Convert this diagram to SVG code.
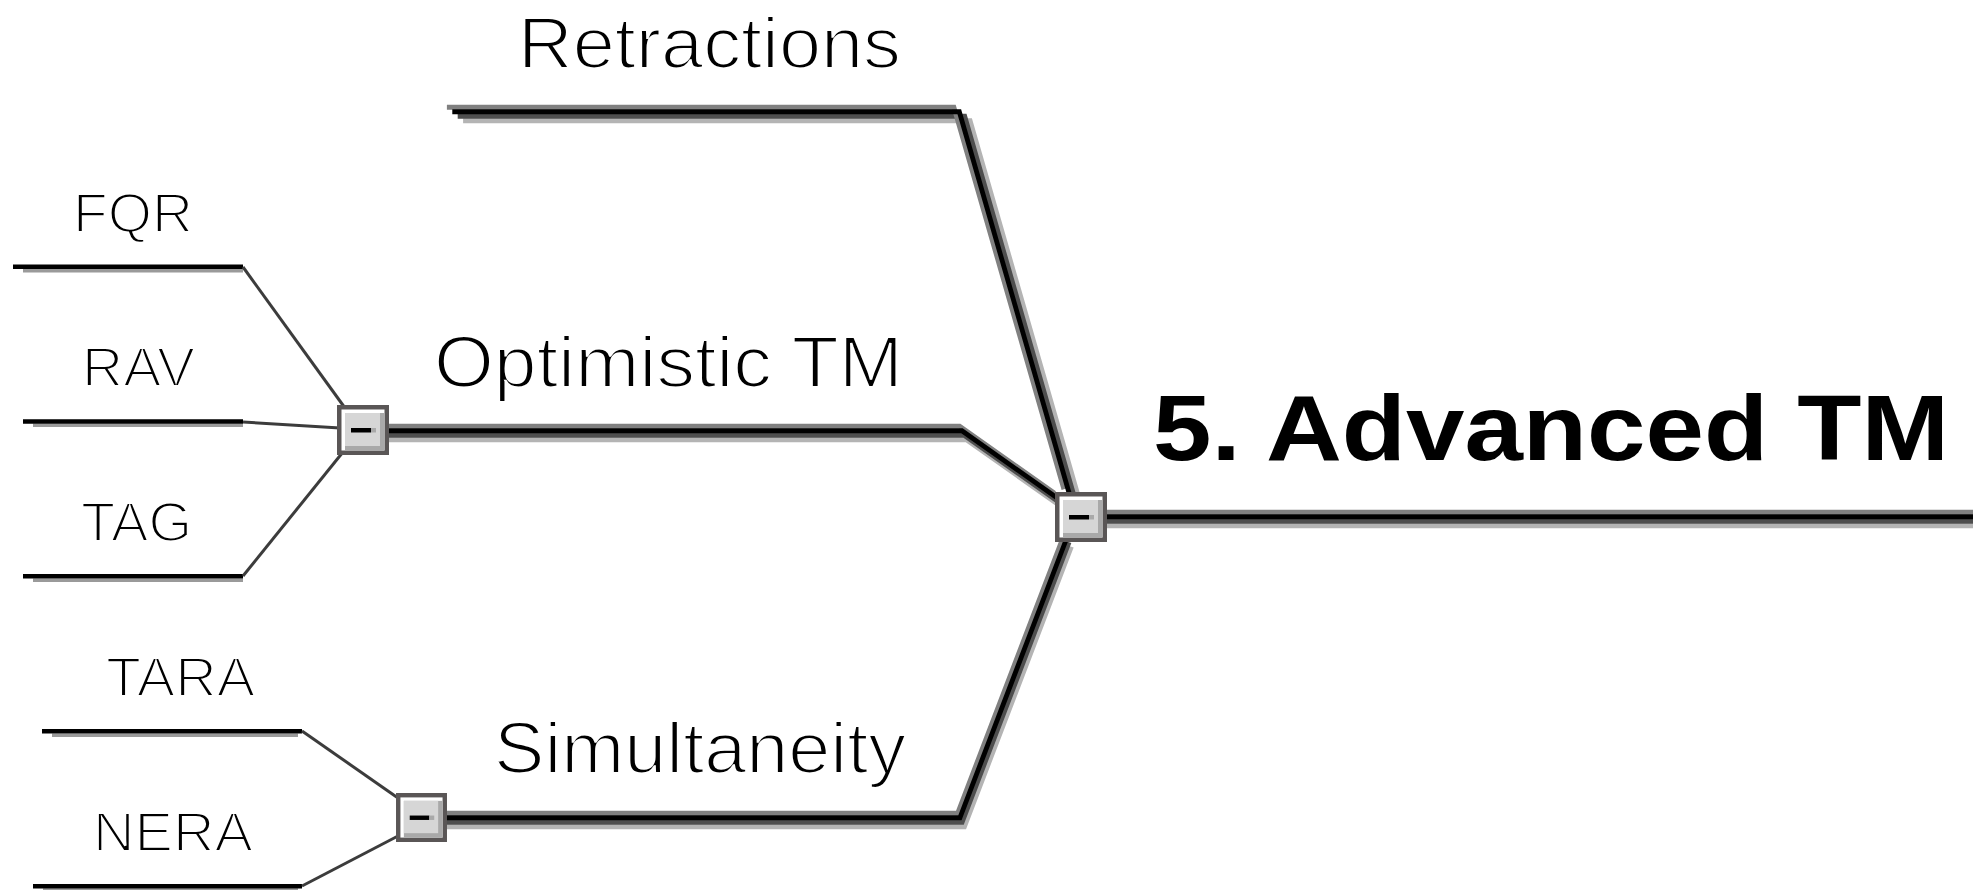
<svg xmlns="http://www.w3.org/2000/svg" xmlns:xlink="http://www.w3.org/1999/xlink" width="1973" height="890" viewBox="0 0 1973 890">
  <style>
    .lbl { font-family: "Liberation Sans", Arial, sans-serif; fill: #000; }
    .thin { stroke: #fff; stroke-width: 2.2px; }
    .main { font-weight: bold; font-size: 93px; }
    .branch { font-size: 73px; }
    .leaf { font-size: 55px; }
    .b-gray  { fill: none; stroke: #808080; stroke-width: 4.8; }
    .b-black { fill: none; stroke: #000; stroke-width: 4.8; }
    .b-dark  { fill: none; stroke: #4e4e4e; stroke-width: 4.8; }
    .b-light { fill: none; stroke: #b4b4b4; stroke-width: 4.8; }
    .leaf-line { fill: none; stroke: #000; stroke-width: 4.5; }
    .leaf-shadow { fill: none; stroke: #9a9a9a; stroke-width: 3.6; }
    .leaf-link { fill: none; stroke: #3c3c3c; stroke-width: 3; }
  </style>
  <defs>
    <!-- collapse toggle: dark frame, bevelled grey face, minus sign -->
    <symbol id="toggle" viewBox="0 0 52 50">
      <rect x="0" y="0" width="52" height="50" fill="#5a5656"/>
      <rect x="4.5" y="4.5" width="43" height="41" fill="#ffffff"/>
      <rect x="8" y="8" width="39.5" height="37.5" fill="#a9a9a9"/>
      <rect x="8" y="8" width="35" height="33" fill="#d6d6d6"/>
      <rect x="14" y="23" width="20" height="4.5" fill="#000"/>
      <rect x="34" y="23" width="5" height="4.5" fill="#a9a9a9"/>
    </symbol>
    <!-- thick branch centrelines; each is drawn as four shifted bands -->
    <path id="p-retr" d="M455,114 L962,114 L1072,496"/>
    <path id="p-opt" d="M380,433 L963,433 L1058,500"/>
    <path id="p-sim" d="M440,820 L961,820 L1068,540"/>
    <path id="p-main" d="M1090,519 L1990,519"/>
  </defs>

  <g id="connectors">
    <!-- Retractions branch -->
    <g>
      <use xlink:href="#p-retr" class="b-light" transform="translate(8.1,6.75)"/>
      <use xlink:href="#p-retr" class="b-dark" transform="translate(2.7,2.25)"/>
      <use xlink:href="#p-retr" class="b-gray" transform="translate(-8.1,-6.75)"/>
      <use xlink:href="#p-retr" class="b-black" transform="translate(-2.7,-2.25)"/>
    </g>
    <!-- Optimistic TM branch -->
    <g>
      <use xlink:href="#p-opt" class="b-light" transform="translate(3.4,6.75)"/>
      <use xlink:href="#p-opt" class="b-dark" transform="translate(1.1,2.25)"/>
      <use xlink:href="#p-opt" class="b-gray" transform="translate(-3.4,-6.75)"/>
      <use xlink:href="#p-opt" class="b-black" transform="translate(-1.1,-2.25)"/>
    </g>
    <!-- Simultaneity branch -->
    <g>
      <use xlink:href="#p-sim" class="b-light" transform="translate(3.4,6.75)"/>
      <use xlink:href="#p-sim" class="b-dark" transform="translate(1.1,2.25)"/>
      <use xlink:href="#p-sim" class="b-gray" transform="translate(-3.4,-6.75)"/>
      <use xlink:href="#p-sim" class="b-black" transform="translate(-1.1,-2.25)"/>
    </g>
    <!-- root trunk -->
    <g>
      <use xlink:href="#p-main" class="b-light" transform="translate(0,6.75)"/>
      <use xlink:href="#p-main" class="b-dark" transform="translate(0,2.25)"/>
      <use xlink:href="#p-main" class="b-gray" transform="translate(0,-6.75)"/>
      <use xlink:href="#p-main" class="b-black" transform="translate(0,-2.25)"/>
    </g>

    <!-- leaf underlines with soft shadow -->
    <g class="leaf-shadow">
      <path d="M23,270.7 L243,270.7"/>
      <path d="M33,425.3 L243,425.3"/>
      <path d="M33,580.3 L243,580.3"/>
      <path d="M52,735.3 L298,735.3"/>
      <path d="M43,890 L298,890"/>
    </g>
    <g class="leaf-line">
      <path d="M13,266.7 L243,266.7"/>
      <path d="M23,421.5 L243,421.5"/>
      <path d="M23,576.3 L243,576.3"/>
      <path d="M42,731.3 L302,731.3"/>
      <path d="M33,886.3 L302,886.3"/>
    </g>
    <!-- thin links from leaves to their toggles -->
    <g class="leaf-link">
      <path d="M243,267 L345,408"/>
      <path d="M243,422 L340,428"/>
      <path d="M243,576 L343,452"/>
      <path d="M302,731 L398,798"/>
      <path d="M302,886 L398,836"/>
    </g>
  </g>

  <g id="node-main">
    <text class="lbl main" x="1153" y="460" textLength="796" lengthAdjust="spacingAndGlyphs">5. Advanced TM</text>
    <use xlink:href="#toggle" x="1055" y="492" width="52" height="50"/>
  </g>
  <g id="node-retractions">
    <text class="lbl thin branch" x="518" y="68" textLength="383" lengthAdjust="spacingAndGlyphs">Retractions</text>
  </g>
  <g id="node-optimistic">
    <text class="lbl thin branch" x="434" y="387" textLength="469" lengthAdjust="spacingAndGlyphs">Optimistic TM</text>
    <use xlink:href="#toggle" x="337" y="405" width="52" height="50"/>
  </g>
  <g id="node-simultaneity">
    <text class="lbl thin branch" x="494" y="773" textLength="412" lengthAdjust="spacingAndGlyphs">Simultaneity</text>
    <use xlink:href="#toggle" x="395" y="793" width="53" height="49"/>
  </g>
  <g id="node-fqr">
    <text class="lbl thin leaf" x="73" y="232" textLength="120" lengthAdjust="spacingAndGlyphs">FQR</text>
  </g>
  <g id="node-rav">
    <text class="lbl thin leaf" x="82" y="386" textLength="113" lengthAdjust="spacingAndGlyphs">RAV</text>
  </g>
  <g id="node-tag">
    <text class="lbl thin leaf" x="81" y="541" textLength="111" lengthAdjust="spacingAndGlyphs">TAG</text>
  </g>
  <g id="node-tara">
    <text class="lbl thin leaf" x="106" y="696" textLength="149" lengthAdjust="spacingAndGlyphs">TARA</text>
  </g>
  <g id="node-nera">
    <text class="lbl thin leaf" x="93" y="851" textLength="160" lengthAdjust="spacingAndGlyphs">NERA</text>
  </g>
</svg>
